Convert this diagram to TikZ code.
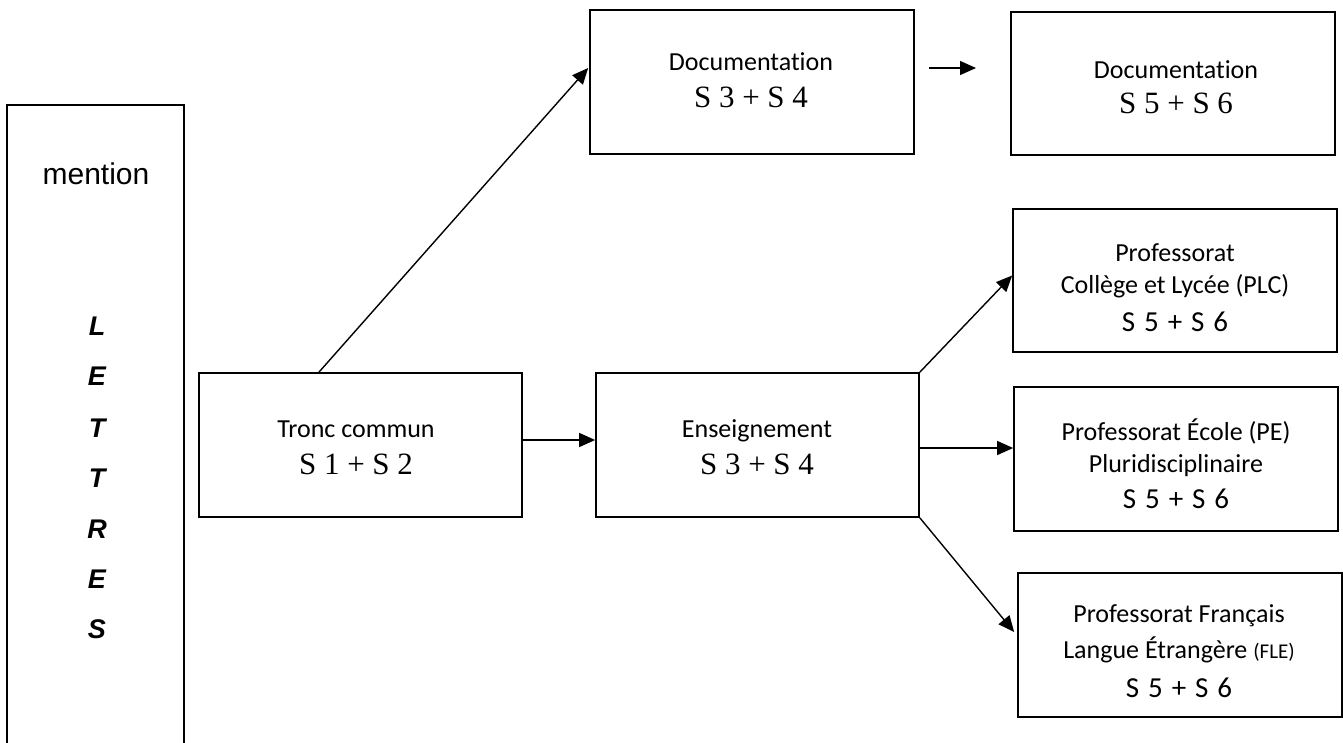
\documentclass[tikz,border=0pt]{standalone}
\usepackage{fontspec}
\setmainfont{Carlito}[Ligatures={NoCommon}]
\newfontfamily\timesf{Liberation Serif}
\newfontfamily\arialf{Liberation Sans}
\usetikzlibrary{arrows.meta,calc}
\newcommand\semgap{\hspace{0.31em}}
\begin{document}
\begin{tikzpicture}[x=1pt,y=-1pt,
  box/.style={draw,line width=1.7pt,rectangle,inner sep=0pt},
  arr/.style={line width=1.4pt,-{Triangle[length=16pt,width=14pt]}},
  lab/.style={anchor=base,inner sep=0pt,font=\fontsize{26}{30}\selectfont},
  sem/.style={anchor=base,inner sep=0pt,font=\fontsize{29}{32}\selectfont},
  tsem/.style={anchor=base,inner sep=0pt,font=\timesf\fontsize{31}{34}\selectfont},
  letter/.style={anchor=base,inner sep=0pt,font=\arialf\bfseries\itshape\fontsize{27}{30}\selectfont}
]
\useasboundingbox (0,0) rectangle (1343,742);
% boxes
\node[box,minimum width=177pt,minimum height=655pt] (lettres) at (95.5,432.5) {};
\node[box,minimum width=323pt,minimum height=144pt] (tronc) at (360.5,445) {};
\node[box,minimum width=324pt,minimum height=144pt] (doc1) at (752,82) {};
\node[box,minimum width=324pt,minimum height=143pt] (doc2) at (1173,83.5) {};
\node[box,minimum width=323pt,minimum height=144pt] (ens) at (757.5,445) {};
\node[box,minimum width=324pt,minimum height=143pt] (plc) at (1175,280.5) {};
\node[box,minimum width=324pt,minimum height=144pt] (pe) at (1176,459) {};
\node[box,minimum width=324pt,minimum height=144pt] (fle) at (1180,645) {};
% left column text
\node[anchor=base,inner sep=0pt,font=\arialf\fontsize{30}{34}\selectfont] (mention) at (96,184) {mention};
\node[letter] (l1) at (97,335) {L};
\node[letter] (l2) at (97,385) {E};
\node[letter] (l3) at (97,437) {T};
\node[letter] (l4) at (97,487) {T};
\node[letter] (l5) at (97,538) {R};
\node[letter] (l6) at (97,588) {E};
\node[letter] (l7) at (97,638) {S};
% box texts
\node[lab] (t1) at (356,437) {Tronc commun};
\node[tsem] (t2) at (356,474) {S 1 + S 2};
\node[lab] (d1a) at (751,70) {Documentation};
\node[tsem] (d1b) at (751,107) {S 3 + S 4};
\node[lab] (d2a) at (1176,78) {Documentation};
\node[tsem] (d2b) at (1176,113) {S 5 + S 6};
\node[lab] (e1) at (757,437) {Enseignement};
\node[tsem] (e2) at (757,474) {S 3 + S 4};
\node[lab] (p1) at (1175,261) {Professorat};
\node[lab] (p2) at (1175,293) {Collège et Lycée (PLC)};
\node[sem] (p3) at (1175,331) {S\semgap5\semgap+\semgap S\semgap6};
\node[lab] (q1) at (1176,440) {Professorat École (PE)};
\node[lab] (q2) at (1176,472) {Pluridisciplinaire};
\node[sem] (q3) at (1176,508) {S\semgap5\semgap+\semgap S\semgap6};
\node[lab] (f1) at (1179,622) {Professorat Français};
\node[lab] (f2) at (1179,658) {Langue Étrangère {\fontsize{21}{24}\selectfont(FLE)}};
\node[sem] (f3) at (1179,697) {S\semgap5\semgap+\semgap S\semgap6};
% connectors
\coordinate (teY) at (0,440);
\coordinate (peY) at (0,448);
\coordinate (dA) at (929,68);
\coordinate (dB) at (976,68);
\draw[arr] ($(tronc.north west)!0.372!(tronc.north east)$) -- ($(doc1.west)+(-1,-14)$);
\draw[arr] (tronc.east|-teY) -- (ens.west|-teY);
\draw[arr] (dA) -- (dB);
\draw[arr] (ens.north east) -- ($(plc.west)+(0,-5)$);
\draw[arr] (ens.east|-peY) -- (pe.west|-peY);
\draw[arr] (ens.south east) -- ($(fle.west)+(-3,-13)$);
\end{tikzpicture}
\end{document}
